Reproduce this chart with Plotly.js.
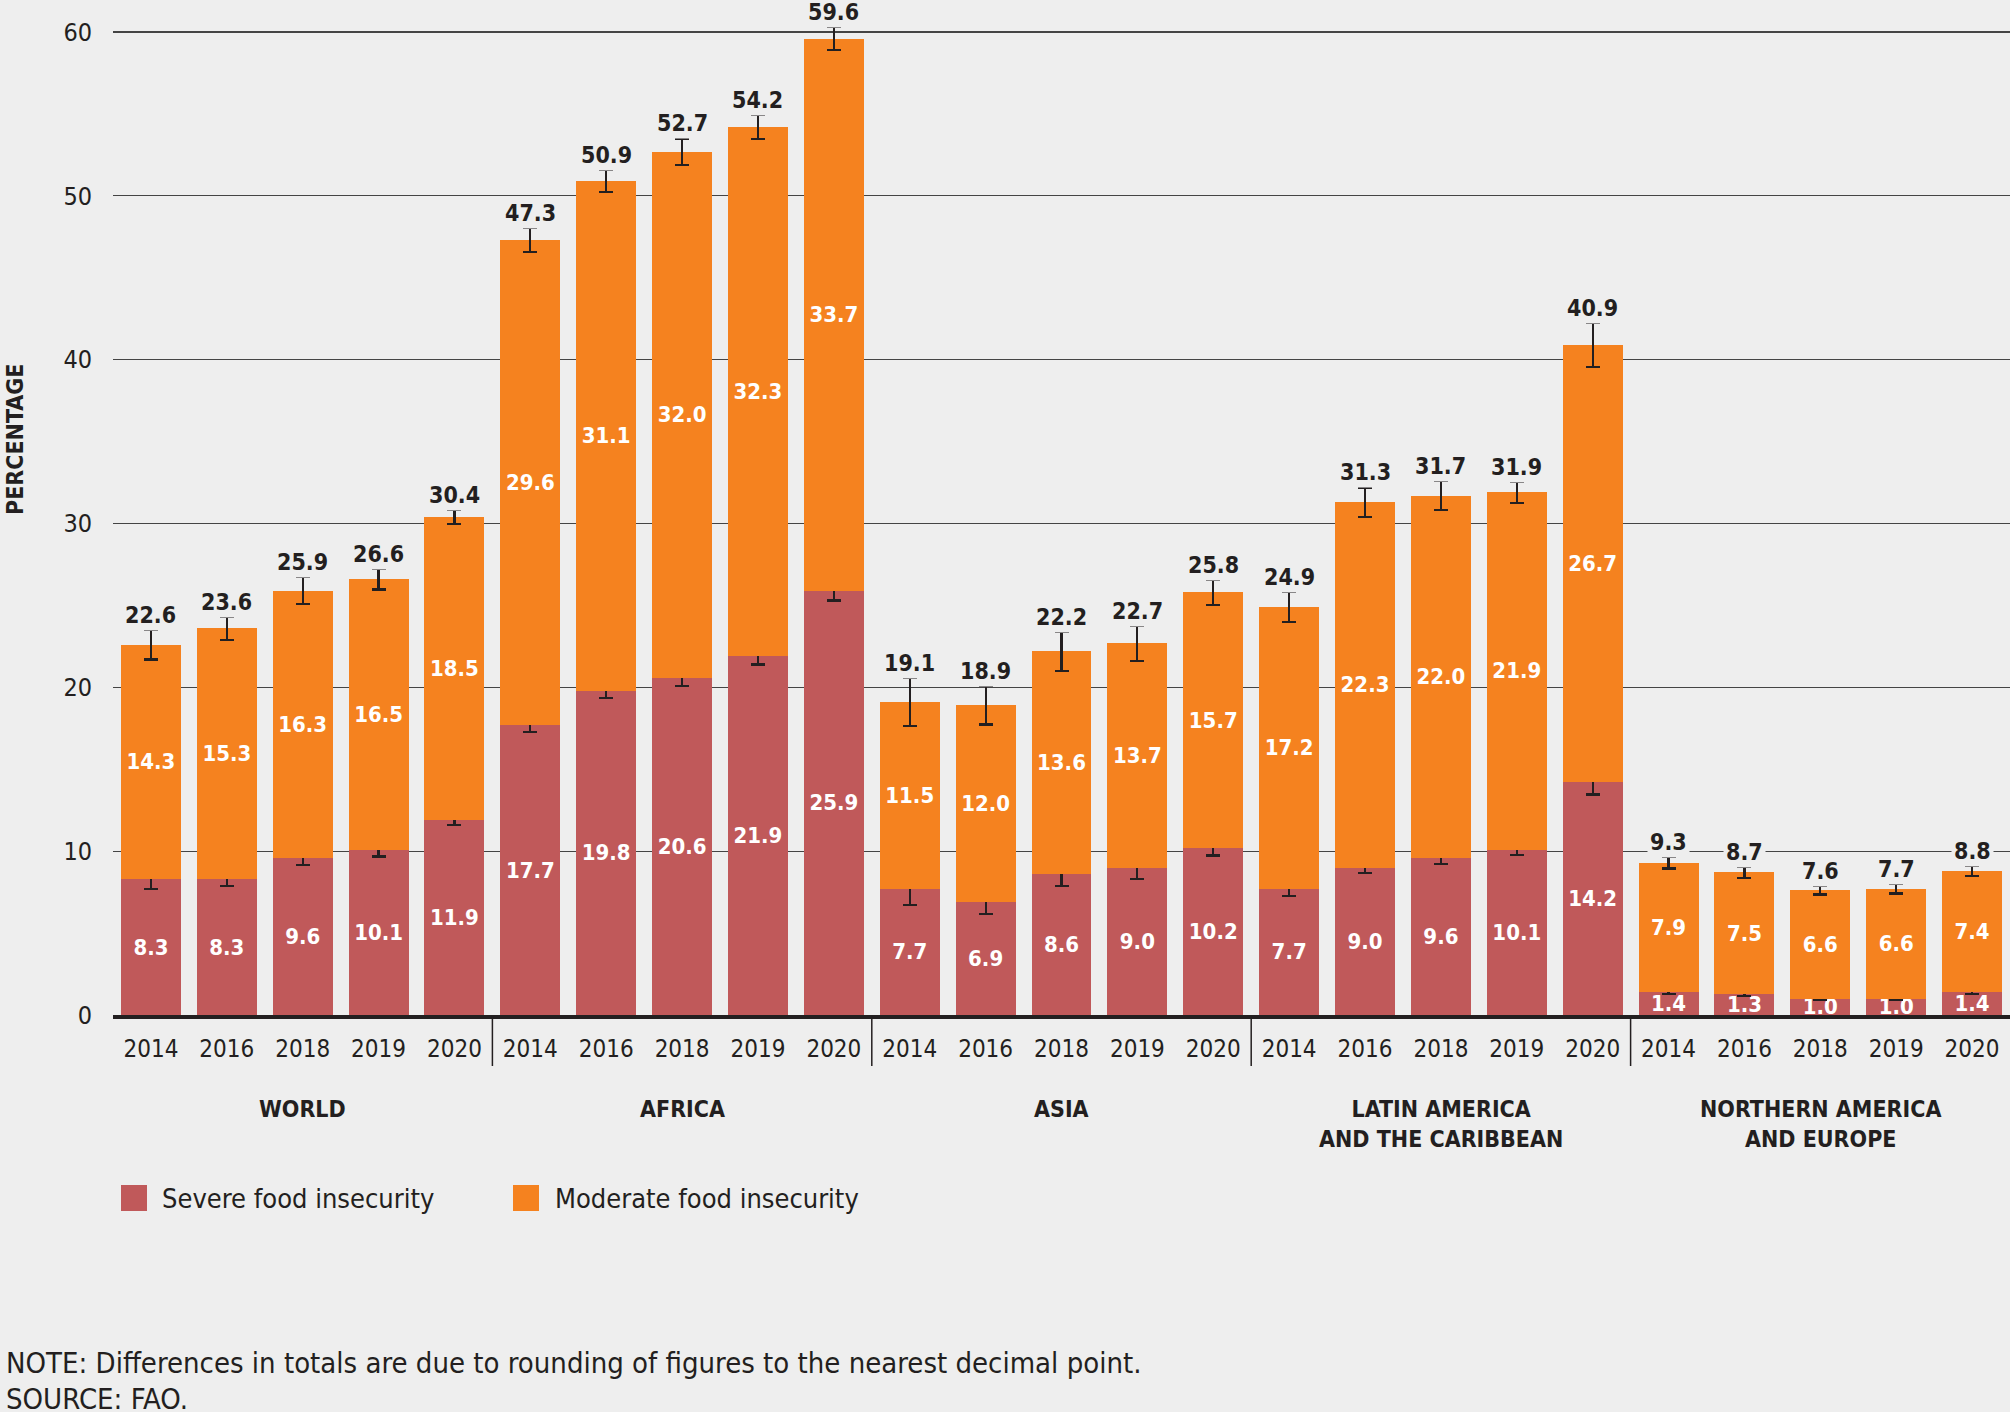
<!DOCTYPE html>
<html>
<head>
<meta charset="utf-8">
<script src="https://cdn.plot.ly/plotly-3.0.1.min.js"></script>
<style>
  html, body { margin: 0; padding: 0; background: #eeeeee; }
  #chart { width: 2010px; height: 1412px; }
</style>
</head>
<body>
<div id="chart"></div>
<script>
// ---- Data ----
const years = ['2014', '2016', '2018', '2019', '2020'];
const regions = ['WORLD', 'AFRICA', 'ASIA', 'LATIN AMERICA<br>AND THE CARIBBEAN', 'NORTHERN AMERICA<br>AND EUROPE'];

const severe = [8.3, 8.3, 9.6, 10.1, 11.9,
                17.7, 19.8, 20.6, 21.9, 25.9,
                7.7, 6.9, 8.6, 9.0, 10.2,
                7.7, 9.0, 9.6, 10.1, 14.2,
                1.4, 1.3, 1.0, 1.0, 1.4];
const moderate = [14.3, 15.3, 16.3, 16.5, 18.5,
                  29.6, 31.1, 32.0, 32.3, 33.7,
                  11.5, 12.0, 13.6, 13.7, 15.7,
                  17.2, 22.3, 22.0, 21.9, 26.7,
                  7.9, 7.5, 6.6, 6.6, 7.4];
const total = [22.6, 23.6, 25.9, 26.6, 30.4,
               47.3, 50.9, 52.7, 54.2, 59.6,
               19.1, 18.9, 22.2, 22.7, 25.8,
               24.9, 31.3, 31.7, 31.9, 40.9,
               9.3, 8.7, 7.6, 7.7, 8.8];
const severeErr = [0.62, 0.44, 0.46, 0.42, 0.30,
                   0.42, 0.44, 0.52, 0.50, 0.60,
                   1.00, 0.72, 0.73, 0.68, 0.46,
                   0.46, 0.33, 0.36, 0.35, 0.74,
                   0.14, 0.12, 0.10, 0.10, 0.11];
const totalErr = [0.90, 0.72, 0.82, 0.63, 0.45,
                  0.72, 0.69, 0.80, 0.73, 0.72,
                  1.45, 1.17, 1.20, 1.07, 0.75,
                  0.92, 0.90, 0.87, 0.64, 1.33,
                  0.36, 0.35, 0.25, 0.28, 0.30];
const seriesNames = ['Severe food insecurity', 'Moderate food insecurity'];
const yTicks = [0, 10, 20, 30, 40, 50, 60];
const noteLines = ['NOTE: Differences in totals are due to rounding of figures to the nearest decimal point.', 'SOURCE: FAO.'];

// ---- Styling ----
const FONT = "'DejaVu Sans Condensed', 'Liberation Sans Narrow', 'Roboto Condensed', 'Arial Narrow', sans-serif";
const INK = '#231f20';
const BG = '#eeeeee';
const C_SEVERE = '#c0595a';
const C_MODERATE = '#f5821f';

// category keys (unique), tick text shows years
const categories = [];
const tickText = [];
regions.forEach(r => years.forEach(y => { categories.push(r + '|' + y); tickText.push(y); }));

// plot geometry in px (for paper conversions of decorations only)
const W = 2010, H = 1412;
const M = { l: 113, r: 0, t: 2, b: 397 };
const PW = W - M.l - M.r, PH = H - M.t - M.b;
const Y_MAX = 60 * PH / 983;   // keeps the 60 gridline where the reference has it
const px2x = px => (px - M.l) / PW;
const px2y = py => (H - M.b - py) / PH;

const moderateDrawn = total.map((t, i) => t - severe[i]);

const traces = [
  {
    type: 'bar', name: seriesNames[0], x: categories, y: severe,
    marker: { color: C_SEVERE, line: { width: 0 } },
    text: severe.map(v => v.toFixed(1)), textposition: 'inside', insidetextanchor: 'middle',
    constraintext: 'none', textangle: 0, cliponaxis: false,
    textfont: { family: FONT, size: 22, color: '#ffffff', weight: 700 },
    error_y: { type: 'data', array: severeErr, visible: true, color: INK, thickness: 2.2, width: 7 },
    hoverinfo: 'skip', showlegend: false
  },
  {
    type: 'bar', name: seriesNames[1], x: categories, y: moderateDrawn,
    marker: { color: C_MODERATE, line: { width: 0 } },
    text: moderate.map(v => v.toFixed(1)), textposition: 'inside', insidetextanchor: 'middle',
    constraintext: 'none', textangle: 0, cliponaxis: false,
    textfont: { family: FONT, size: 22, color: '#ffffff', weight: 700 },
    error_y: { type: 'data', array: totalErr, visible: true, color: INK, thickness: 2.2, width: 7 },
    hoverinfo: 'skip', showlegend: false
  }
];

const annotations = [];
// total labels
categories.forEach((c, i) => {
  annotations.push({
    x: c, y: total[i] + totalErr[i], xref: 'x', yref: 'y',
    text: total[i].toFixed(1), showarrow: false, yanchor: 'bottom', xanchor: 'center',
    bgcolor: BG, borderpad: 2, yshift: -1,
    font: { family: FONT, size: 23, color: INK, weight: 700 }
  });
});
// group labels
regions.forEach((r, g) => {
  annotations.push({
    x: categories[g * 5 + 2], y: 0, xref: 'x', yref: 'paper',
    text: r, showarrow: false, yanchor: 'top', xanchor: 'center', align: 'center',
    yshift: -79,
    font: { family: FONT, size: 23, color: INK, weight: 700 }
  });
});
// y axis title
annotations.push({
  x: px2x(15), y: px2y(440), xref: 'paper', yref: 'paper',
  text: 'PERCENTAGE', textangle: -90, showarrow: false, xanchor: 'center', yanchor: 'middle',
  borderpad: 0,
  font: { family: FONT, size: 23, color: INK, weight: 700 }
});
// legend (custom, to match big swatches)
const legendItems = [
  { name: seriesNames[0], color: C_SEVERE, sx: 121, tx: 160 },
  { name: seriesNames[1], color: C_MODERATE, sx: 513, tx: 553 }
];
const shapes = [];
legendItems.forEach(li => {
  shapes.push({
    type: 'rect', xref: 'paper', yref: 'paper',
    x0: px2x(li.sx), x1: px2x(li.sx + 26), y0: px2y(1185), y1: px2y(1211),
    fillcolor: li.color, line: { width: 0 }
  });
  annotations.push({
    x: px2x(li.tx), y: px2y(1198), xref: 'paper', yref: 'paper',
    text: li.name, showarrow: false, xanchor: 'left', yanchor: 'middle',
    font: { family: FONT, size: 27, color: INK }
  });
});
// group dividers below axis
for (let g = 1; g < regions.length; g++) {
  shapes.push({
    type: 'line', xref: 'x', yref: 'paper',
    x0: g * years.length - 0.5, x1: g * years.length - 0.5,
    y0: px2y(1015), y1: px2y(1066),
    line: { color: INK, width: 1.5 }
  });
}
// notes
noteLines.forEach((t, k) => {
  annotations.push({
    x: px2x(4), y: px2y(1363 + k * 36), xref: 'paper', yref: 'paper',
    text: t, showarrow: false, xanchor: 'left', yanchor: 'middle',
    font: { family: FONT, size: 29, color: INK }
  });
});

const layout = {
  width: W, height: H,
  margin: M,
  paper_bgcolor: BG, plot_bgcolor: BG,
  barmode: 'stack', bargap: 0.21,
  showlegend: false,
  font: { family: FONT, color: INK },
  xaxis: {
    type: 'category', tickmode: 'array', tickvals: categories, ticktext: tickText,
    range: [-0.5, categories.length - 0.5],
    showline: true, linecolor: INK, linewidth: 4, ticks: '', showgrid: false, zeroline: false,
    tickfont: { family: FONT, size: 24, color: INK }, ticklabelstandoff: 9, fixedrange: true
  },
  yaxis: {
    range: [0, Y_MAX], tickmode: 'array', tickvals: yTicks,
    showgrid: true, gridcolor: '#444444', gridwidth: 1.3, zeroline: false, showline: false, ticks: '',
    tickfont: { family: FONT, size: 25, color: INK }, ticklabelstandoff: 20, fixedrange: true
  },
  annotations: annotations,
  shapes: shapes
};

Plotly.newPlot('chart', traces, layout, { staticPlot: true, displayModeBar: false });
</script>
</body>
</html>
